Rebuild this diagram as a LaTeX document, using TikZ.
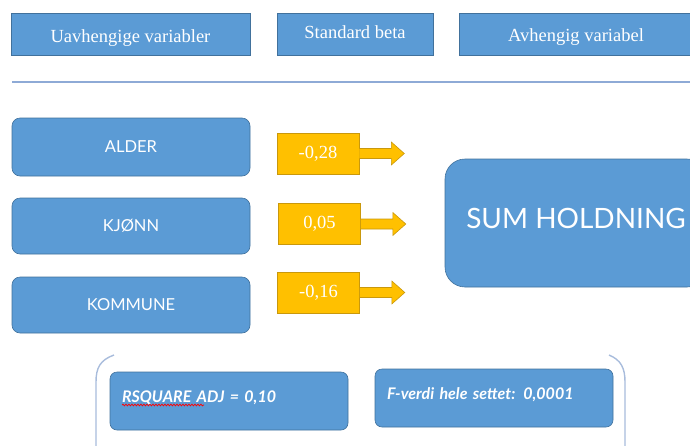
\documentclass[tikz,border=0pt]{standalone}
\usepackage{fontspec}
\setmainfont{Liberation Serif}
\newfontfamily\avsans{Lato}
\usetikzlibrary{decorations.pathmorphing}
\definecolor{boxblue}{HTML}{5B9BD5}
\definecolor{boxedge}{HTML}{41719C}
\definecolor{boxorange}{HTML}{FFC000}
\definecolor{orangeedge}{HTML}{C9980C}
\definecolor{rulecol}{HTML}{8EAAD6}
\definecolor{brackcol}{HTML}{A8BCDC}
\newcommand{\lowered}[2]{\raisebox{-#1pt}[0pt][0pt]{#2}}
\tikzset{
  headbox/.style={draw=boxedge, line width=0.6pt, fill=boxblue, text=white, minimum height=42, inner sep=0pt, font=\fontsize{18.5}{20}\selectfont},
  varbox/.style={draw=boxedge, line width=0.6pt, fill=boxblue, text=white, rounded corners=8, minimum width=238, inner sep=0pt, font=\avsans\fontsize{16.5}{18}\selectfont},
  betabox/.style={draw=orangeedge, line width=0.6pt, fill=boxorange, text=white, minimum width=82, minimum height=41, inner sep=0pt, font=\fontsize{18.5}{20}\selectfont},
  betaarrow/.style={draw=orangeedge, line width=0.6pt, fill=boxorange, line join=miter},
  statbox/.style={draw=boxedge, line width=0.6pt, fill=boxblue, text=white, rounded corners=7, minimum width=238, minimum height=58, inner sep=0pt, text width=214, align=left, font=\avsans\bfseries\itshape\fontsize{16}{18}\selectfont},
  bracket/.style={draw=brackcol, line width=1.4pt}
}
\begin{document}
\begin{tikzpicture}[x=1pt,y=-1pt]
\useasboundingbox (0,0) rectangle (690,445);
% header
\node[headbox, minimum width=239] (h1) at (130.5,34) {\lowered{8}{Uavhengige variabler}};
\node[headbox, minimum width=156] (h2) at (355,34) {\lowered{4}{Standard beta}};
\node[headbox, minimum width=234] (h3) at (576,34) {\lowered{7}{Avhengig variabel}};
\draw[rulecol, line width=1.3pt] (12,82) -- (692,82);
% independent variables
\node[varbox, minimum height=58] (alder) at (131,147) {ALDER};
\node[varbox, minimum height=56] (kjonn) at (131,226) {KJØNN};
\node[varbox, minimum height=56] (kommune) at (131,305) {KOMMUNE};
% betas
\node[betabox] (b1) at (318,153.5) {-0,28};
\node[betabox] (b2) at (319.5,224) {0,05};
\node[betabox] (b3) at (318.5,292.5) {-0,16};
\foreach \b/\tip in {b1/t1,b2/t2,b3/t3}{
  \coordinate (\tip) at ([xshift=45]\b.east);
  \draw[betaarrow] ([yshift=5]\b.east) -- ([xshift=32,yshift=5]\b.east) -- ([xshift=32,yshift=11.5]\b.east) -- (\tip) -- ([xshift=32,yshift=-11.5]\b.east) -- ([xshift=32,yshift=-5]\b.east) -- ([yshift=-5]\b.east);
}
% dependent variable
\node[draw=boxedge, line width=0.6pt, fill=boxblue, text=white, rounded corners=20, minimum width=262, minimum height=128, inner sep=0pt, font=\avsans\fontsize{28}{32}\selectfont] (sum) at (576,223) {\lowered{5.5}{SUM HOLDNING}};
% bottom bracket
\draw[bracket] (114,355) .. controls (100,360) and (96,368) .. (96,382) -- (96,452);
\draw[bracket] (609,355) .. controls (621,360) and (625,368) .. (625,382) -- (625,452);
% stats
\node[statbox] (rsq) at (229,401) {\lowered{1}{RSQUARE ADJ = 0,10}};
\node[statbox] (fval) at (494,398) {\lowered{1}{F-verdi hele settet: 0,0001}};
\draw[red, line width=0.7pt, decorate, decoration={snake, amplitude=0.9pt, segment length=3pt}] ([xshift=-107,yshift=-4]rsq.center) -- ([xshift=-25,yshift=-4]rsq.center);
\end{tikzpicture}
\end{document}
